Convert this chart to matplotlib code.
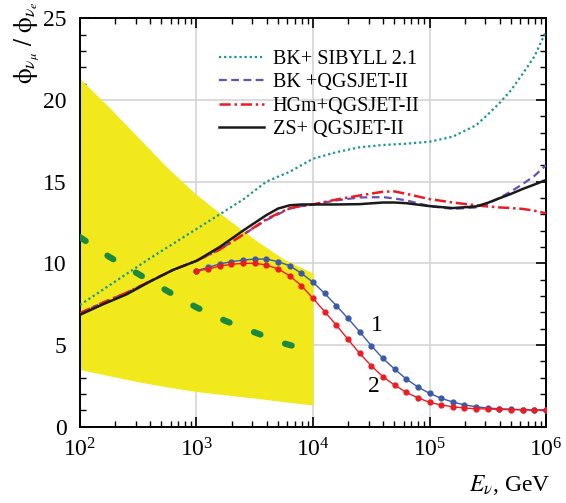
import numpy as np
import matplotlib
matplotlib.use('Agg')
import matplotlib.pyplot as plt

plt.rcParams['font.family'] = ['Liberation Serif', 'DejaVu Serif']
plt.rcParams['mathtext.fontset'] = 'stix'

# model curves: log10(E/GeV) and flux ratio
lg_model = [2.0, 2.2, 2.4, 2.6, 2.8, 3.0, 3.2, 3.4, 3.6, 3.7, 3.8, 3.9, 4.0, 4.2, 4.4,
            4.6, 4.7, 4.8, 5.0, 5.2, 5.4, 5.5, 5.6, 5.7, 5.8, 5.9, 6.0]
bk_sibyll = [7.45, 8.4, 9.35, 10.3, 11.2, 12.1, 13.0, 13.9, 15.0, 15.3, 15.6, 16.0, 16.4,
             16.8, 17.1, 17.24, 17.28, 17.32, 17.44, 17.75, 18.45, 19.1, 19.8, 20.6, 21.6,
             22.65, 24.2]
bk_qgsjet = [6.95, 7.6, 8.2, 8.9, 9.6, 10.15, 10.85, 11.75, 12.65, 13.0, 13.35, 13.5, 13.6,
             13.85, 14.03, 14.05, 13.97, 13.85, 13.5, 13.33, 13.42, 13.65, 14.0, 14.4, 14.85,
             15.35, 16.0]
hgm_qgsjet = [6.95, 7.6, 8.2, 8.9, 9.6, 10.15, 10.85, 11.75, 12.7, 13.05, 13.37, 13.5, 13.6,
              13.9, 14.15, 14.38, 14.4, 14.25, 13.93, 13.72, 13.55, 13.48, 13.42, 13.38, 13.33,
              13.22, 13.06]
zs_qgsjet = [6.85, 7.5, 8.1, 8.88, 9.6, 10.15, 11.0, 12.0, 12.95, 13.35, 13.55, 13.6, 13.6,
             13.6, 13.62, 13.72, 13.72, 13.68, 13.5, 13.38, 13.48, 13.7, 13.98, 14.25, 14.55,
             14.82, 15.1]

# curves 1 and 2 (points every 0.1 decade from 1e3 to 1e6)
lg_pts = [3.0 + 0.1 * k for k in range(31)]
curve1 = [9.55, 9.75, 9.96, 10.1, 10.2, 10.26, 10.26, 10.1, 9.85, 9.39, 8.84, 8.16, 7.41,
          6.63, 5.82, 4.96, 4.18, 3.53, 2.92, 2.43, 2.04, 1.74, 1.51, 1.33, 1.22, 1.14, 1.10,
          1.07, 1.05, 1.03, 1.02]
curve2 = [9.53, 9.65, 9.83, 9.94, 10.0, 10.0, 9.9, 9.65, 9.24, 8.63, 7.86, 7.04, 6.22, 5.35,
          4.49, 3.73, 3.06, 2.55, 2.10, 1.77, 1.49, 1.33, 1.22, 1.14, 1.10, 1.08, 1.06, 1.04,
          1.03, 1.02, 1.02]

# yellow band
lg_band = [2.0, 2.25, 2.5, 2.75, 3.0, 3.25, 3.5, 3.75, 4.0]
band_hi = [21.3, 19.55, 17.7, 15.85, 14.2, 12.8, 11.45, 10.25, 9.4]
band_lo = [3.5, 3.12, 2.75, 2.43, 2.15, 1.95, 1.75, 1.53, 1.33]

# green dashed
lg_green = [2.0, 2.25, 2.5, 2.75, 3.0, 3.25, 3.5, 3.75, 4.0]
green = [11.6, 10.4, 9.35, 8.3, 7.3, 6.47, 5.77, 5.1, 4.6]

to_e = lambda lg: 10 ** np.array(lg)

fig = plt.figure(figsize=(5.66, 5.03), dpi=100)
ax = fig.add_axes([0.1413, 0.1517, 0.8234, 0.8121])

ax.fill_between(to_e(lg_band), band_lo, band_hi, color='#f1e91c', lw=0, zorder=1)
ax.plot(to_e(lg_green), green, color='#1b8a3e', lw=4.5, dashes=(1.1, 4.2),
        dash_capstyle='round', zorder=3)

ax.plot(to_e(lg_model), bk_sibyll, color='#1a9494', lw=1.6, dashes=(1, 1.3),
        label='BK+ SIBYLL 2.1', zorder=4)
ax.plot(to_e(lg_model), bk_qgsjet, color='#6a4fb3', lw=1.6, dashes=(3.5, 2),
        label='BK +QGSJET-II', zorder=4)
ax.plot(to_e(lg_model), hgm_qgsjet, color='#ec1c24', lw=1.8, dashes=(4.5, 1.5, 1, 1.5),
        label='HGm+QGSJET-II', zorder=4)
ax.plot(to_e(lg_model), zs_qgsjet, color='#1a1a1a', lw=1.8,
        label='ZS+ QGSJET-II', zorder=5)

ax.plot(to_e(lg_pts), curve1, color='#3a5aa8', lw=1.0, marker='o', ms=3.5, zorder=6)
ax.plot(to_e(lg_pts), curve2, color='#ec1c24', lw=1.0, marker='o', ms=3.5, zorder=6)
ax.text(3.5e4, 6.2, '1', fontsize=17, ha='center', va='center')
ax.text(3.3e4, 2.45, '2', fontsize=17, ha='center', va='center')

ax.set_xscale('log')
ax.set_xlim(1e2, 1e6)
ax.set_ylim(0, 25)
ax.set_yticks([0, 5, 10, 15, 20, 25])
ax.set_yticks(range(0, 26), minor=True)
ax.grid(True, which='major', color='#d4d4d4', lw=1.2, zorder=0)
ax.set_axisbelow(True)
ax.tick_params(which='both', direction='in', top=True, right=True, labelsize=17)
ax.tick_params(which='major', length=7, width=1.2)
ax.tick_params(which='minor', length=4, width=1.0)
ax.tick_params(axis='y', which='major', pad=9.5)
ax.tick_params(axis='x', which='major', pad=8)
for s in ax.spines.values():
    s.set_linewidth(1.4)

leg = ax.legend(loc='upper left', bbox_to_anchor=(0.299, 0.923), frameon=False,
                fontsize=14.5, handlelength=2.2, handletextpad=0.45, labelspacing=0.22,
                borderpad=0, borderaxespad=0)

fig.text(0.048, 0.915, r'$\mathrm{\phi}_{\nu_\mu}\ /\ \mathrm{\phi}_{\nu_e}$', rotation=90,
         fontsize=18, ha='center', va='center')
fig.text(0.972, 0.012, r'$E_\nu$, GeV', fontsize=17, ha='right', va='bottom')

fig.savefig('out.png', dpi=100)
